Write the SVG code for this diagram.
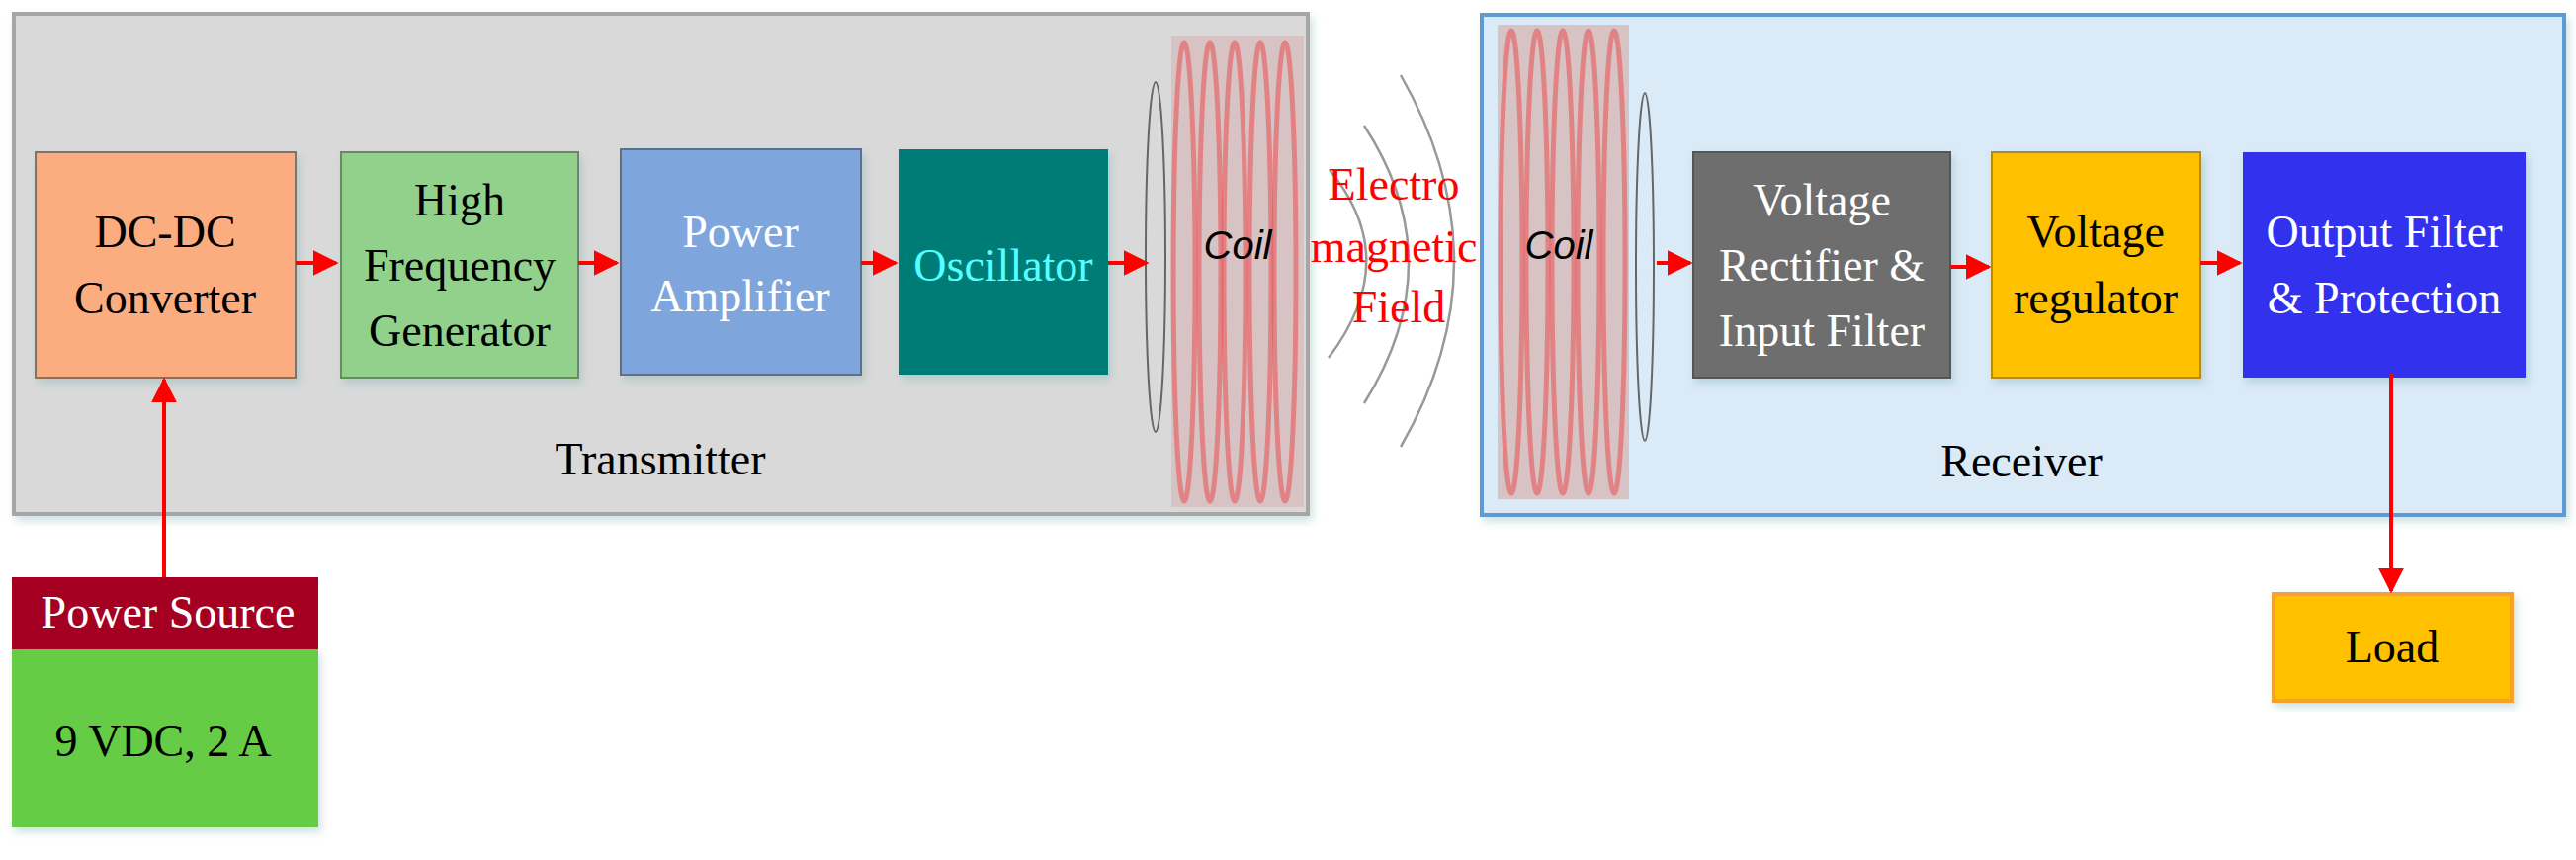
<svg xmlns="http://www.w3.org/2000/svg" width="2606" height="870" viewBox="0 0 2606 870">
<style>
.t{font-family:"Liberation Serif",serif;font-size:46px;text-anchor:middle}
.c{font-family:"Liberation Sans",sans-serif;font-style:italic;font-size:40px;text-anchor:middle}
.a{stroke:#ff0000;stroke-width:4;fill:none}
.loop{fill:none;stroke:#e8585a;stroke-width:5;opacity:.6}
</style>
<defs>
<marker id="ah" viewBox="0 0 10 10" refX="9" refY="5" markerWidth="6.5" markerHeight="6.5" orient="auto"><path d="M0,0L10,5L0,10z" fill="#ff0000"/></marker>
<filter id="sh"><feDropShadow dx="3" dy="5" stdDeviation="4" flood-color="#7aa" flood-opacity=".35"/></filter>
</defs>
<rect width="2606" height="870" fill="#fff"/>
<g id="transmitter">
<rect x="14" y="14" width="1309" height="506" fill="#d9d9d9" stroke="#a6a6a6" stroke-width="4" filter="url(#sh)"/>
<text class="t" x="668" y="480">Transmitter</text>
</g>
<g id="receiver">
<rect x="1499" y="15" width="1095" height="506" fill="#daeaf7" stroke="#5b9bd5" stroke-width="4" filter="url(#sh)"/>
<text class="t" x="2045" y="482">Receiver</text>
</g>
<g id="tx-coil">
<rect x="1185" y="36" width="134" height="477" fill="#d7c3c3"/>
<ellipse class="loop" cx="1198" cy="275" rx="11" ry="232"/><ellipse class="loop" cx="1224" cy="275" rx="11" ry="232"/><ellipse class="loop" cx="1249" cy="275" rx="11" ry="232"/><ellipse class="loop" cx="1275" cy="275" rx="11" ry="232"/><ellipse class="loop" cx="1300" cy="275" rx="11" ry="232"/>
<ellipse cx="1169" cy="260" rx="10" ry="177" fill="none" stroke="#666" stroke-width="2"/>
<text class="c" x="1252" y="262">Coil</text>
</g>
<g id="rx-coil">
<rect x="1515" y="25" width="133" height="480" fill="#d7c3c3"/>
<ellipse class="loop" cx="1529" cy="265" rx="11" ry="234"/><ellipse class="loop" cx="1555" cy="265" rx="11" ry="234"/><ellipse class="loop" cx="1581" cy="265" rx="11" ry="234"/><ellipse class="loop" cx="1607" cy="265" rx="11" ry="234"/><ellipse class="loop" cx="1633" cy="265" rx="11" ry="234"/>
<ellipse cx="1664" cy="270" rx="9" ry="176" fill="none" stroke="#666" stroke-width="2"/>
<text class="c" x="1577" y="262">Coil</text>
</g>
<g id="field">
<path d="M1344,362 Q1420,262 1345,172" fill="none" stroke="#999" stroke-width="2.5"/>
<path d="M1380,408 Q1470,265 1380,127" fill="none" stroke="#999" stroke-width="2.5"/>
<path d="M1417,452 Q1525,265 1417,76" fill="none" stroke="#999" stroke-width="2.5"/>
<text class="t" fill="#ff0000" font-size="40" x="1410" y="202">Electro</text>
<text class="t" fill="#ff0000" font-size="40" x="1410" y="265">magnetic</text>
<text class="t" fill="#ff0000" font-size="40" x="1415" y="326">Field</text>
</g>
<g id="dcdc"><rect x="36" y="154" width="263" height="228" fill="#fbad80" stroke="#8a7060" stroke-width="2" filter="url(#sh)"/>
<text class="t" x="167" y="250">DC-DC</text><text class="t" x="167" y="317">Converter</text></g>
<g id="hfg"><rect x="345" y="154" width="240" height="228" fill="#92d18b" stroke="#6a8a60" stroke-width="2" filter="url(#sh)"/>
<text class="t" x="465" y="218">High</text><text class="t" x="465" y="284">Frequency</text><text class="t" x="465" y="350">Generator</text></g>
<g id="pa"><rect x="628" y="151" width="243" height="228" fill="#7ea6dc" stroke="#5a7090" stroke-width="2" filter="url(#sh)"/>
<text class="t" fill="#fff" x="749" y="250">Power</text><text class="t" fill="#fff" x="749" y="315">Amplifier</text></g>
<g id="osc"><rect x="909" y="151" width="212" height="228" fill="#007b77" filter="url(#sh)"/>
<text class="t" fill="#5ff" x="1015" y="284">Oscillator</text></g>
<g id="source">
<rect x="12" y="584" width="310" height="73" fill="#a50021"/>
<text class="t" fill="#fff" x="170" y="635">Power Source</text>
<rect x="12" y="657" width="310" height="180" fill="#66cc44" filter="url(#sh)"/>
<text class="t" x="165" y="765">9 VDC, 2 A</text></g>
<g id="rect"><rect x="1713" y="154" width="260" height="228" fill="#6e6e6e" stroke="#555" stroke-width="2" filter="url(#sh)"/>
<text class="t" fill="#fff" x="1843" y="218">Voltage</text><text class="t" fill="#fff" x="1843" y="284">Rectifier &amp;</text><text class="t" fill="#fff" x="1843" y="350">Input Filter</text></g>
<g id="reg"><rect x="2015" y="154" width="211" height="228" fill="#ffc000" stroke="#b08a20" stroke-width="2" filter="url(#sh)"/>
<text class="t" x="2120" y="250">Voltage</text><text class="t" x="2120" y="317">regulator</text></g>
<g id="out"><rect x="2269" y="154" width="286" height="228" fill="#3030ee" filter="url(#sh)"/>
<text class="t" fill="#fff" x="2412" y="250">Output Filter</text><text class="t" fill="#fff" x="2412" y="317">&amp; Protection</text></g>
<g id="load"><rect x="2300" y="601" width="241" height="108" fill="#ffc000" stroke="#f5a030" stroke-width="4" filter="url(#sh)"/>
<text class="t" x="2420" y="670">Load</text></g>
<g id="connectors">
<line class="a" x1="299" y1="266" x2="340" y2="266" marker-end="url(#ah)"/>
<line class="a" x1="585" y1="266" x2="624" y2="266" marker-end="url(#ah)"/>
<line class="a" x1="871" y1="266" x2="906" y2="266" marker-end="url(#ah)"/>
<line class="a" x1="1121" y1="266" x2="1160" y2="266" marker-end="url(#ah)"/>
<line class="a" x1="1676" y1="266" x2="1710" y2="266" marker-end="url(#ah)"/>
<line class="a" x1="1973" y1="270" x2="2012" y2="270" marker-end="url(#ah)"/>
<line class="a" x1="2226" y1="266" x2="2266" y2="266" marker-end="url(#ah)"/>
<line class="a" x1="166" y1="584" x2="166" y2="384" marker-end="url(#ah)"/>
<line class="a" x1="2419" y1="378" x2="2419" y2="598" marker-end="url(#ah)"/>
</g>
</svg>
